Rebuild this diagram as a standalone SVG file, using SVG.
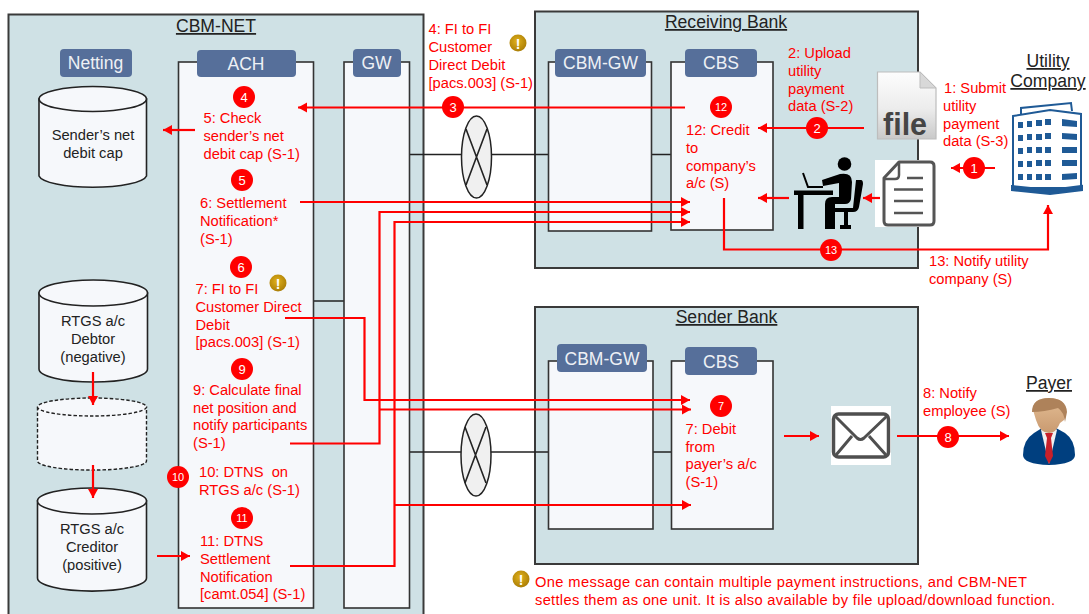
<svg xmlns="http://www.w3.org/2000/svg" width="1089" height="614" viewBox="0 0 1089 614">
<style>
text{font-family:"Liberation Sans",Arial,sans-serif}
.box{fill:#cfe1e5;stroke:#3a3a3a;stroke-width:2}
.col{fill:#f6f8fb;stroke:#333;stroke-width:1.6}
.lab{fill:#566f9a}
.labt{fill:#eef1f5;font-size:17.5px;text-anchor:middle}
.title{fill:#222;font-size:17.6px;text-anchor:middle;text-decoration:underline}
.cyl{fill:#f6f8fb;stroke:#222;stroke-width:1.6}
.cyd{fill:#f6f8fb;stroke:#222;stroke-width:1.4;stroke-dasharray:3.5 2}
.cyt{fill:#222;font-size:14.7px;text-anchor:middle}
.r{fill:#f00;font-size:14.7px}
.link{fill:none;stroke:#222;stroke-width:1.6}
.x{fill:#f0f0f0;stroke:#222;stroke-width:1.5}
.arr{fill:none;stroke:#f00;stroke-width:2.2}
.bad{fill:#f00}
.badt{fill:#fff;font-size:13px;text-anchor:middle}
.badts{fill:#fff;font-size:11px;text-anchor:middle}
.warnt{fill:#fff;font-size:14px;font-weight:bold;text-anchor:middle}
</style>
<defs>
<marker id="ah" markerUnits="userSpaceOnUse" markerWidth="12" markerHeight="12" refX="10" refY="6" orient="auto"><path d="M1 1L10 6L1 11Z" fill="#f00"/></marker>
<radialGradient id="gold" cx="0.45" cy="0.4" r="0.65"><stop offset="0" stop-color="#e2b21c"/><stop offset="1" stop-color="#a67a05"/></radialGradient>
<linearGradient id="fileg" x1="0" y1="0" x2="0" y2="1"><stop offset="0" stop-color="#fdfdfd"/><stop offset="0.55" stop-color="#ececec"/><stop offset="1" stop-color="#c9c9c9"/></linearGradient>
<linearGradient id="skin" x1="0" y1="0" x2="0" y2="1"><stop offset="0" stop-color="#e3bd94"/><stop offset="1" stop-color="#c99a70"/></linearGradient>
</defs>
<rect width="1089" height="614" fill="#fff"/>

<g id="cbm-net">
<rect class="box" x="8.500" y="14.500" width="415" height="620"/>
<text class="title" x="216" y="32">CBM-NET</text>
</g>
<g id="receiving-bank">
<rect class="box" x="535" y="11.500" width="383" height="256.500"/>
<text class="title" x="726" y="28">Receiving Bank</text>
</g>
<g id="sender-bank">
<rect class="box" x="535" y="307" width="383" height="257"/>
<text class="title" x="726.500" y="323">Sender Bank</text>
</g>

<g id="links">
<path class="link" d="M313 301H344M409 154.500H548M651 154.500H671M409 452H548M653 452H671"/>
<ellipse class="x" cx="476.500" cy="157" rx="15" ry="41"/>
<path class="link" d="M466 129L487 185M487 129L466 185"/>
<ellipse class="x" cx="476" cy="455" rx="15" ry="41"/>
<path class="link" d="M465 427L486 483M486 427L465 483"/>
</g>

<g id="netting">
<rect class="lab" x="60" y="49" width="72" height="28" rx="4"/>
<text class="labt" x="95.500" y="69">Netting</text>
</g>
<g id="ach">
<rect class="col" x="178.500" y="62" width="135" height="546"/>
<rect class="lab" x="197" y="50" width="99" height="27" rx="4"/>
<text class="labt" x="246" y="70">ACH</text>
</g>
<g id="gw">
<rect class="col" x="344" y="62" width="65.500" height="546"/>
<rect class="lab" x="353" y="49" width="48" height="28" rx="4"/>
<text class="labt" x="376.500" y="69">GW</text>
</g>
<g id="recv-gw">
<rect class="col" x="548.500" y="62" width="103" height="169"/>
<rect class="lab" x="555" y="49" width="91" height="28" rx="4"/>
<text class="labt" x="600.500" y="69">CBM-GW</text>
</g>
<g id="recv-cbs">
<rect class="col" x="671" y="62" width="102" height="168"/>
<rect class="lab" x="685" y="49" width="72" height="28" rx="4"/>
<text class="labt" x="721" y="69">CBS</text>
</g>
<g id="send-gw">
<rect class="col" x="548.500" y="361" width="104.500" height="168"/>
<rect class="lab" x="557" y="344" width="90" height="28" rx="4"/>
<text class="labt" x="602" y="365">CBM-GW</text>
</g>
<g id="send-cbs">
<rect class="col" x="671.500" y="361" width="101.500" height="168"/>
<rect class="lab" x="685" y="347" width="72" height="28" rx="4"/>
<text class="labt" x="721" y="368">CBS</text>
</g>

<g id="net-debit-cap">
<path class="cyl" d="M39 99V176A54 12.500 0 0 0 146.500 176V99Z"/>
<ellipse class="cyl" cx="92.750" cy="99" rx="53.750" ry="12.500"/>
<text class="cyt" x="93" y="140">Sender’s net</text>
<text class="cyt" x="93" y="158">debit cap</text>
</g>
<g id="rtgs-debtor">
<path class="cyl" d="M39 293V369A54 13 0 0 0 147.500 369V293Z"/>
<ellipse class="cyl" cx="93.250" cy="293" rx="54.250" ry="13"/>
<text class="cyt" x="93" y="326">RTGS a/c</text>
<text class="cyt" x="93" y="344">Debtor</text>
<text class="cyt" x="93" y="362">(negative)</text>
</g>
<g id="rtgs-empty">
<path class="cyd" d="M37.500 407V461A54 9 0 0 0 146.500 461V407Z"/>
<ellipse class="cyd" cx="92" cy="407" rx="54.500" ry="9"/>
</g>
<g id="rtgs-creditor">
<path class="cyl" d="M37.500 501V578A54 13 0 0 0 146.500 578V501Z"/>
<ellipse class="cyl" cx="92" cy="501" rx="54.500" ry="13"/>
<text class="cyt" x="92" y="534">RTGS a/c</text>
<text class="cyt" x="92" y="552">Creditor</text>
<text class="cyt" x="92" y="570">(positive)</text>
</g>

<g id="file-icon">
<path d="M877.500 72H920L936 88V139H877.500Z" fill="url(#fileg)" stroke="#bdbdbd" stroke-width="1.200"/>
<path d="M920 72V88H936Z" fill="#d8d8d8" stroke="#bdbdbd"/>
<text x="883" y="135" font-size="30.500" font-weight="bold" fill="#454545">file</text>
</g>
<g id="document-icon">
<rect x="875" y="160" width="60" height="67" fill="#fff"/>
<path d="M899 162H930Q934 162 934 166V221Q934 225 930 225H888Q884 225 884 221V178Z" fill="#fff" stroke="#555" stroke-width="3" stroke-linejoin="round"/>
<path d="M899 162V175Q899 179 895 179H884" fill="none" stroke="#555" stroke-width="2.500"/>
<path d="M907 178H923M894 189.500H923M894 201H923M894 213H923" stroke="#555" stroke-width="2.500" fill="none"/>
</g>
<g id="employee-icon" fill="#000">
<circle cx="844.500" cy="164" r="6.800"/>
<path d="M794 190.500H833V195H803.500V229H798V195H794Z"/>
<path d="M803 173L808 187H823" fill="none" stroke="#000" stroke-width="2"/>
<path d="M822 180L840 174Q852 172 852 182L851 199Q850 204 845 204H835V229H825V204Q825 197 832 197H839V183L823 186Z"/>
<path d="M856 180H861Q863 180 863 184L859 207Q858 212 853 212H848V225H851V229H840V225H844V212H835V208H853Z"/>
</g>
<g id="envelope-icon">
<rect x="831" y="406" width="60" height="59" fill="#fff"/>
<rect x="833.500" y="414" width="55" height="43" rx="5" fill="#fff" stroke="#4f4f4f" stroke-width="3.500"/>
<path d="M835 416L857 438Q860.500 441 864 438L887 416M836 455L852 436M886 455L869 436" fill="none" stroke="#4f4f4f" stroke-width="3"/>
</g>

<g id="utility-company">
<text class="title" x="1048" y="67">Utility</text>
<text class="title" x="1048" y="87">Company</text>
<path d="M1021 116V108L1071 103L1072 111" fill="none" stroke="#1f5a96" stroke-width="2"/>
<path d="M1013 116L1050 110L1081 114V188H1013Z" fill="#fff" stroke="#1f5a96" stroke-width="2"/>
<path d="M1012 186L1050 190L1082 186V190L1050 194L1012 190Z" fill="#1f5a96" stroke="#1f5a96" stroke-width="2"/>
<path fill="#1f5a96" d="M1018 122h5v6h-5zM1027 121h5v6h-5zM1036 120h6v6h-6zM1045 119h6v6h-6zM1018 135h5v6h-5zM1027 134h5v6h-5zM1036 134h6v6h-6zM1045 133h6v6h-6zM1018 148h5v6h-5zM1027 147h5v6h-5zM1036 147h6v6h-6zM1045 147h6v6h-6zM1018 161h5v6h-5zM1027 161h5v6h-5zM1036 160h6v6h-6zM1045 160h6v6h-6zM1018 174h5v6h-5zM1027 174h5v6h-5zM1036 174h6v6h-6zM1045 174h6v6h-6zM1062 119l15 2v6l-15-1zM1062 133l15 1v6l-15-1zM1062 147l15 0v6l-15 0zM1062 160l15 0v6l-15 0zM1062 174l15 -1v6l-15 1z"/>
</g>
<g id="payer">
<text class="title" x="1049" y="389">Payer</text>
<path d="M1023 455Q1023 440 1034 433L1042 428H1056L1065 433Q1075 440 1075 455Q1075 464 1049 465Q1023 464 1023 455Z" fill="#003f7f"/>
<path d="M1041 430L1049 464L1057 430L1053 426H1045Z" fill="#f1f1f1"/>
<path d="M1045 433H1053L1051 438L1053 456L1049 464L1045 456L1047 438Z" fill="#c8202a"/>
<path d="M1033 410Q1033 398 1049 398Q1066 398 1066 413L1064 420L1060 423Q1056 433 1049 433Q1040 433 1036 420Z" fill="url(#skin)"/>
<path d="M1032 412Q1032 398 1049 398Q1066 398 1067 412L1065 422Q1064 412 1058 408Q1044 412 1032 412Z" fill="#ae825a"/>
</g>

<g id="connectors">
<path class="arr" marker-end="url(#ah)" d="M685 107.500H298"/>
<path class="arr" marker-end="url(#ah)" d="M195 130H163"/>
<path class="arr" marker-end="url(#ah)" d="M300 202H690"/>
<path class="arr" marker-end="url(#ah)" d="M290 443.500H379.500V212H690"/>
<path class="arr" marker-end="url(#ah)" d="M379.500 409.500H691"/>
<path class="arr" marker-end="url(#ah)" d="M285 318H364.500V400H690"/>
<path class="arr" marker-end="url(#ah)" d="M290 566H394.500V222H690"/>
<path class="arr" marker-end="url(#ah)" d="M394.500 505H691"/>
<path class="arr" marker-end="url(#ah)" d="M93 372V405"/>
<path class="arr" marker-end="url(#ah)" d="M93 465V498"/>
<path class="arr" marker-end="url(#ah)" d="M157 556H190"/>
<path class="arr" marker-end="url(#ah)" d="M864 128H758"/>
<path class="arr" marker-end="url(#ah)" d="M789 198H758"/>
<path class="arr" marker-end="url(#ah)" d="M880 198H863"/>
<path class="arr" marker-end="url(#ah)" d="M995 168H951"/>
<path class="arr" marker-end="url(#ah)" d="M724 198V249.500H1048V205"/>
<path class="arr" marker-end="url(#ah)" d="M784 436H819"/>
<path class="arr" marker-end="url(#ah)" d="M897 436H1009"/>
</g>

<g id="steps">
<circle class="bad" cx="244" cy="97" r="11"/><text class="badt" x="244" y="102">4</text>
<circle class="bad" cx="242" cy="180" r="11"/><text class="badt" x="242" y="185">5</text>
<circle class="bad" cx="241" cy="267" r="11"/><text class="badt" x="241" y="272">6</text>
<circle class="bad" cx="242" cy="369" r="11"/><text class="badt" x="242" y="374">9</text>
<circle class="bad" cx="178" cy="477" r="11"/><text class="badts" x="178" y="481">10</text>
<circle class="bad" cx="242" cy="518" r="11"/><text class="badts" x="242" y="522">11</text>
<circle class="bad" cx="453" cy="107" r="11"/><text class="badt" x="453" y="112">3</text>
<circle class="bad" cx="721" cy="107" r="11"/><text class="badts" x="721" y="111">12</text>
<circle class="bad" cx="721" cy="406" r="11"/><text class="badts" x="721" y="410">7</text>
<circle class="bad" cx="817" cy="128" r="11"/><text class="badt" x="817" y="133">2</text>
<circle class="bad" cx="974" cy="168" r="11"/><text class="badt" x="974" y="173">1</text>
<circle class="bad" cx="831" cy="250" r="11"/><text class="badts" x="831" y="254">13</text>
<circle class="bad" cx="948" cy="437" r="11"/><text class="badt" x="948" y="442">8</text>
<circle cx="278" cy="283" r="8.500" fill="url(#gold)"/><text class="warnt" x="278" y="288.500">!</text>
<circle cx="518" cy="43" r="8.500" fill="url(#gold)"/><text class="warnt" x="518" y="48.500">!</text>
<circle cx="521" cy="579" r="8.500" fill="url(#gold)"/><text class="warnt" x="521" y="584.500">!</text>
</g>

<g id="labels">
<text class="r" x="203.500" y="123">5: Check</text>
<text class="r" x="203.500" y="141">sender’s net</text>
<text class="r" x="203.500" y="158.500">debit cap (S-1)</text>
<text class="r" x="200" y="208">6: Settlement</text>
<text class="r" x="200" y="226">Notification*</text>
<text class="r" x="200" y="243.500">(S-1)</text>
<text class="r" x="195.500" y="294">7: FI to FI</text>
<text class="r" x="195.500" y="312">Customer Direct</text>
<text class="r" x="195.500" y="329.500">Debit</text>
<text class="r" x="195.500" y="347">[pacs.003] (S-1)</text>
<text class="r" x="193" y="395">9: Calculate final</text>
<text class="r" x="193" y="412.500">net position and</text>
<text class="r" x="193" y="430">notify participants</text>
<text class="r" x="193" y="448">(S-1)</text>
<text class="r" x="199" y="477" xml:space="preserve">10: DTNS  on</text>
<text class="r" x="199" y="495">RTGS a/c (S-1)</text>
<text class="r" x="200" y="546">11: DTNS</text>
<text class="r" x="200" y="564">Settlement</text>
<text class="r" x="200" y="581.500">Notification</text>
<text class="r" x="200" y="599">[camt.054] (S-1)</text>
<text class="r" x="428.500" y="34">4: FI to FI</text>
<text class="r" x="428.500" y="52">Customer</text>
<text class="r" x="428.500" y="70">Direct Debit</text>
<text class="r" x="428.500" y="88">[pacs.003] (S-1)</text>
<text class="r" x="788" y="58">2: Upload</text>
<text class="r" x="788" y="76">utility</text>
<text class="r" x="788" y="94">payment</text>
<text class="r" x="788" y="111">data (S-2)</text>
<text class="r" x="944" y="93">1: Submit</text>
<text class="r" x="943" y="111">utility</text>
<text class="r" x="943" y="129">payment</text>
<text class="r" x="943" y="146">data (S-3)</text>
<text class="r" x="686" y="135">12: Credit</text>
<text class="r" x="686" y="153">to</text>
<text class="r" x="686" y="171">company’s</text>
<text class="r" x="686" y="188">a/c (S)</text>
<text class="r" x="685.500" y="434">7: Debit</text>
<text class="r" x="685.500" y="451.500">from</text>
<text class="r" x="685.500" y="469">payer’s a/c</text>
<text class="r" x="685.500" y="487">(S-1)</text>
<text class="r" x="929" y="266">13: Notify utility</text>
<text class="r" x="929" y="284">company (S)</text>
<text class="r" x="923" y="398">8: Notify</text>
<text class="r" x="923" y="416">employee (S)</text>
<text class="r" x="535" y="587" textLength="492">One message can contain multiple payment instructions, and CBM-NET</text>
<text class="r" x="535" y="605" textLength="520">settles them as one unit. It is also available by file upload/download function.</text>
</g>
</svg>
